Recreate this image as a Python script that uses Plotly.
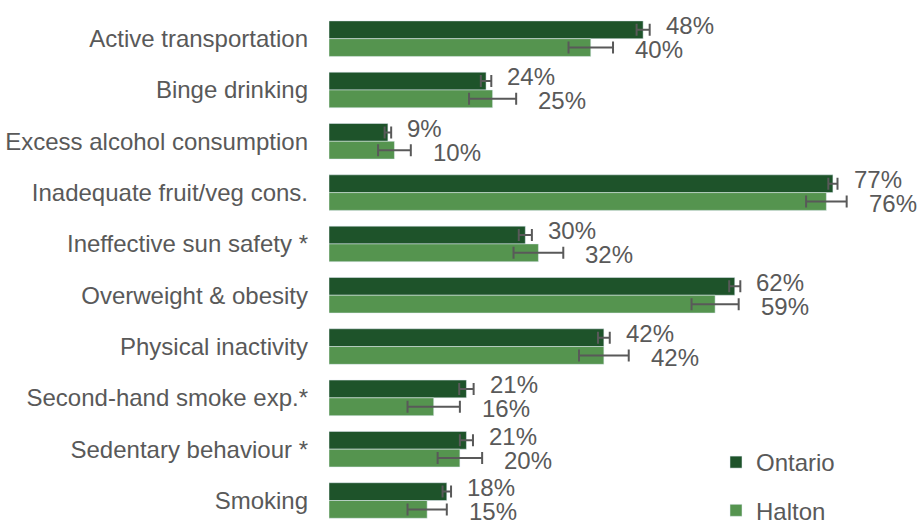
import plotly.graph_objects as go

categories = [
    "Active transportation",
    "Binge drinking",
    "Excess alcohol consumption",
    "Inadequate fruit/veg cons.",
    "Ineffective sun safety *",
    "Overweight & obesity",
    "Physical inactivity",
    "Second-hand smoke exp.*",
    "Sedentary behaviour *",
    "Smoking",
]
ontario = [48, 24, 9, 77, 30, 62, 42, 21, 21, 18]
ontario_err = [1.0, 0.8, 0.5, 0.7, 1.0, 0.85, 0.9, 1.1, 1.0, 0.65]
halton = [40, 25, 10, 76, 32, 59, 42, 16, 20, 15]
halton_err = [3.4, 3.6, 2.5, 3.1, 3.8, 3.6, 3.8, 4.0, 3.4, 3.0]

C_ON = "#1e532a"
C_HA = "#55944f"
GRAY = "#595959"
FONT = "Liberation Sans, Arial, sans-serif"
FS = 24

fig = go.Figure()
fig.add_trace(go.Bar(
    name="Ontario", y=categories, x=ontario, orientation="h",
    marker=dict(color=C_ON),
    error_x=dict(type="data", array=ontario_err, color=GRAY, thickness=2, width=6),
    legendgroup="on",
))
fig.add_trace(go.Bar(
    name="Halton", y=categories, x=halton, orientation="h",
    marker=dict(color=C_HA),
    error_x=dict(type="data", array=halton_err, color=GRAY, thickness=2, width=6),
    legendgroup="ha",
))

annotations = []
for c, v, e in zip(categories, ontario, ontario_err):
    annotations.append(dict(x=v + e, y=c, xref="x", yref="y", text=f"{v}%",
                            showarrow=False, xanchor="left", yanchor="middle",
                            xshift=14, yshift=13,
                            font=dict(family=FONT, size=FS, color=GRAY)))
for c, v, e in zip(categories, halton, halton_err):
    annotations.append(dict(x=v + e, y=c, xref="x", yref="y", text=f"{v}%",
                            showarrow=False, xanchor="left", yanchor="middle",
                            xshift=20, yshift=-11,
                            font=dict(family=FONT, size=FS, color=GRAY)))

fig.update_layout(
    width=919, height=520,
    margin=dict(l=329, r=1, t=13, b=0, autoexpand=False),
    paper_bgcolor="white", plot_bgcolor="white",
    barmode="group", bargap=0.307, bargroupgap=0,
    font=dict(family=FONT, size=FS, color=GRAY),
    xaxis=dict(range=[0, 90], visible=False, showgrid=False, zeroline=False, automargin=False),
    yaxis=dict(range=[9.38, -0.5], showgrid=False, zeroline=False, showline=False,
               ticks="", ticklabelstandoff=20, automargin=False,
               tickfont=dict(family=FONT, size=FS, color=GRAY)),
    legend=dict(x=(716 - 329) / 589, y=(520 - 440) / 507, xanchor="left", yanchor="top",
                xref="paper", yref="paper",
                font=dict(family=FONT, size=FS, color=GRAY),
                bgcolor="rgba(0,0,0,0)", tracegroupgap=14, traceorder="grouped"),
    annotations=annotations,
    showlegend=True,
)

fig.write_html("out.html", config={"displayModeBar": False},
               post_script="document.body.style.margin='0';document.body.style.overflow='hidden';")
